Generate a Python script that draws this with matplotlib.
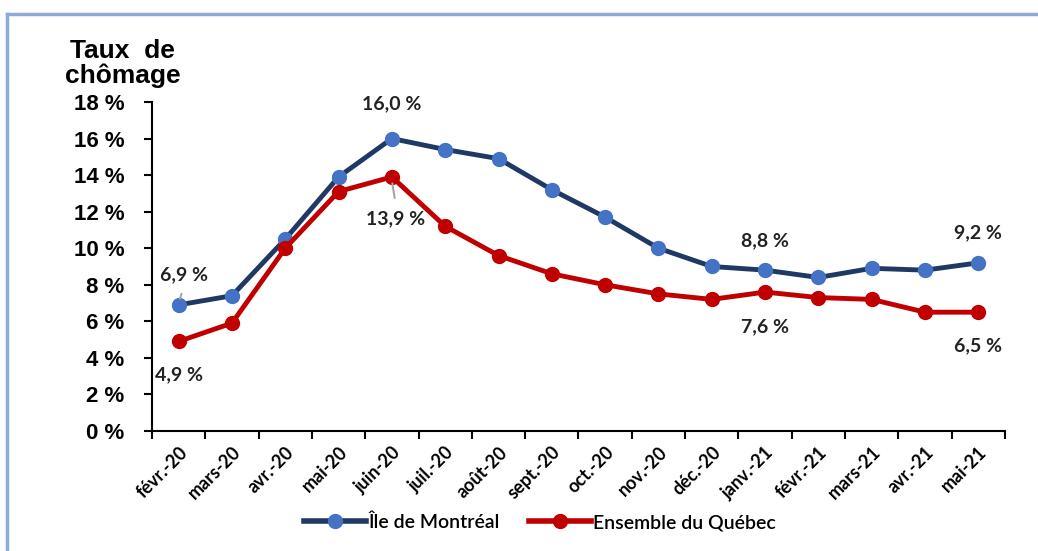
import matplotlib.pyplot as plt
import numpy as np
from matplotlib.lines import Line2D

months = ["févr.-20", "mars-20", "avr.-20", "mai-20", "juin-20", "juil.-20", "août-20",
          "sept.-20", "oct.-20", "nov.-20", "déc.-20", "janv.-21", "févr.-21", "mars-21",
          "avr.-21", "mai-21"]
montreal = [6.9, 7.4, 10.5, 13.9, 16.0, 15.4, 14.9, 13.2, 11.7, 10.0, 9.0, 8.8, 8.4, 8.9, 8.8, 9.2]
quebec = [4.9, 5.9, 10.0, 13.1, 13.9, 11.2, 9.6, 8.6, 8.0, 7.5, 7.2, 7.6, 7.3, 7.2, 6.5, 6.5]
yticks = np.arange(0, 19, 2)

# labelled points: (index, dx, dy in points)
mtl_labels = [(0, 4, 22), (4, 0, 25), (11, 0, 21.5), (15, 0, 22)]
qc_labels = [(0, 0, -24), (4, 3, -30), (11, 0, -25), (15, 0, -24.5)]

navy = "#203864"
blue = "#4472C4"
red = "#C00000"

fig = plt.figure(figsize=(10.38, 5.51), dpi=100)
ax = fig.add_axes([0.1464, 0.2178, 0.8218, 0.5971])

x = np.arange(len(months))
ax.plot(x, montreal, color=navy, lw=3.5, marker="o", ms=10,
        mfc=blue, mec=blue, zorder=3)
ax.plot(x, quebec, color=red, lw=3.5, marker="o", ms=10,
        mfc=red, mec=red, zorder=3)

ax.set_xlim(-0.5, len(months) - 0.5)
ax.set_ylim(0, 18)
ax.set_yticks(yticks)
ax.set_yticklabels([f"{v} %" for v in yticks], fontsize=16, fontweight="bold",
                   family="Liberation Sans")
ax.tick_params(axis="y", length=6, width=1.5, pad=14)

ax.set_xticks(x)
ax.set_xticklabels(months, rotation=45, ha="right", va="top", rotation_mode="anchor",
                   fontsize=13, fontweight="bold", family="Lato")
ax.tick_params(axis="x", which="major", length=0, pad=9)
ax.set_xticks(np.arange(-0.5, len(months)), minor=True)
ax.tick_params(axis="x", which="minor", length=6, width=1.5)

for s in ["top", "right"]:
    ax.spines[s].set_visible(False)
for s in ["left", "bottom"]:
    ax.spines[s].set_linewidth(1.5)

def fmt(v):
    return f"{v:.1f}".replace(".", ",") + " %"

for i, dx, dy in mtl_labels:
    ax.annotate(fmt(montreal[i]), (x[i], montreal[i]), xytext=(dx, dy),
                textcoords="offset points", ha="center", va="center",
                fontsize=14, fontweight="bold", family="Lato", color="#222222")
for i, dx, dy in qc_labels:
    ax.annotate(fmt(quebec[i]), (x[i], quebec[i]), xytext=(dx, dy),
                textcoords="offset points", ha="center", va="center",
                fontsize=14, fontweight="bold", family="Lato", color="#222222")

# leader lines
ax.annotate("", (x[0] + 0.01, montreal[0] + 0.2), xytext=(x[0] + 0.07, montreal[0] + 0.75),
            arrowprops=dict(arrowstyle="-", color="#A6A6A6", lw=1.5))
ax.annotate("", (x[4], quebec[4] - 0.2), xytext=(x[4] + 0.06, quebec[4] - 1.3),
            arrowprops=dict(arrowstyle="-", color="#A6A6A6", lw=1.5))

fig.text(0.118, 0.885, "Taux  de\nchômage", ha="center", va="center",
         fontsize=19, fontweight="bold", family="Liberation Sans", linespacing=1.0)

handles = [Line2D([], [], color=navy, lw=4, marker="o", ms=10, mfc=blue, mec=blue),
           Line2D([], [], color=red, lw=4, marker="o", ms=10, mfc=red, mec=red)]
fig.legend(handles, ["Île de Montréal", "Ensemble du Québec"], loc="center",
           bbox_to_anchor=(0.52, 0.052), ncol=2, frameon=False, handlelength=3.2,
           handletextpad=0.1, columnspacing=1.5,
           prop=dict(family="Lato", size=14, weight="semibold"))

# light blue frame (top and left visible)
fig.add_artist(Line2D([0.007, 1.0], [0.975, 0.975], color="#8EA9DB", lw=2.5))
fig.add_artist(Line2D([0.007, 0.007], [0.0, 0.975], color="#8EA9DB", lw=2.5))

fig.savefig("out.png", dpi=100)
